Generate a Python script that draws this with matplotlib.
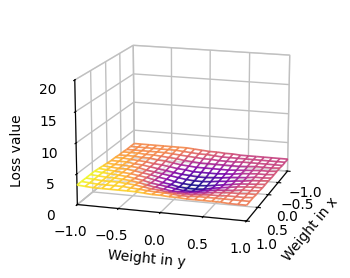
import numpy as np
import matplotlib
matplotlib.use('Agg')
import matplotlib.pyplot as plt
from mpl_toolkits.mplot3d.art3d import Line3DCollection

# loss surface, rows are weight in x (-1 at the back, 1 at the front)
weight_x = [-1.0, -0.857, -0.714, -0.571, -0.429, -0.286, -0.143, 0.0, 0.143, 0.286, 0.429, 0.571, 0.714, 0.857, 1.0]
weight_y = [-1.0, -0.9, -0.8, -0.7, -0.6, -0.5, -0.4, -0.3, -0.2, -0.1, 0.0, 0.1, 0.2, 0.3, 0.4, 0.5, 0.6, 0.7, 0.8, 0.9, 1.0]
loss = [
    [2.6, 2.6, 2.6, 2.6, 2.6, 2.6, 2.6, 2.6, 2.5, 2.4, 2.3, 2.3, 2.2, 2.2, 2.1, 2.1, 2.1, 2.1, 2.1, 2.1, 2.1],
    [2.6, 2.6, 2.6, 2.6, 2.6, 2.6, 2.6, 2.5, 2.4, 2.3, 2.3, 2.2, 2.1, 2.1, 2.1, 2.1, 2.1, 2.1, 2.1, 2.1, 2.1],
    [2.6, 2.6, 2.6, 2.6, 2.6, 2.6, 2.5, 2.4, 2.3, 2.2, 2.1, 2.1, 2.0, 2.0, 2.0, 2.1, 2.1, 2.1, 2.1, 2.1, 2.1],
    [2.7, 2.7, 2.7, 2.6, 2.6, 2.5, 2.4, 2.3, 2.1, 2.0, 1.9, 1.9, 1.9, 1.9, 1.9, 1.9, 2.0, 2.1, 2.1, 2.1, 2.2],
    [2.7, 2.7, 2.7, 2.6, 2.6, 2.4, 2.3, 2.1, 1.9, 1.8, 1.7, 1.7, 1.7, 1.7, 1.7, 1.8, 1.9, 2.0, 2.1, 2.1, 2.2],
    [2.8, 2.8, 2.7, 2.6, 2.5, 2.3, 2.2, 2.0, 1.8, 1.7, 1.5, 1.5, 1.5, 1.5, 1.6, 1.7, 1.9, 2.0, 2.1, 2.1, 2.2],
    [2.8, 2.8, 2.8, 2.6, 2.5, 2.3, 2.1, 1.9, 1.7, 1.5, 1.4, 1.3, 1.3, 1.4, 1.5, 1.7, 1.8, 1.9, 2.1, 2.1, 2.2],
    [2.9, 2.8, 2.8, 2.7, 2.6, 2.3, 2.1, 1.9, 1.7, 1.5, 1.3, 1.2, 1.2, 1.3, 1.5, 1.6, 1.8, 1.9, 2.1, 2.2, 2.3],
    [3.0, 2.9, 2.8, 2.8, 2.6, 2.4, 2.2, 1.9, 1.7, 1.4, 1.2, 1.1, 1.1, 1.2, 1.4, 1.6, 1.8, 2.0, 2.1, 2.2, 2.3],
    [3.1, 3.0, 2.9, 2.8, 2.7, 2.5, 2.3, 2.0, 1.7, 1.5, 1.2, 1.1, 1.1, 1.2, 1.5, 1.7, 1.9, 2.1, 2.2, 2.3, 2.3],
    [3.2, 3.1, 3.0, 2.9, 2.8, 2.6, 2.4, 2.1, 1.9, 1.7, 1.5, 1.3, 1.3, 1.5, 1.7, 1.9, 2.0, 2.1, 2.3, 2.3, 2.4],
    [3.2, 3.1, 3.0, 3.0, 2.9, 2.8, 2.6, 2.3, 2.1, 1.9, 1.7, 1.7, 1.7, 1.8, 1.9, 2.1, 2.2, 2.3, 2.3, 2.4, 2.4],
    [3.2, 3.1, 3.0, 3.0, 3.0, 2.9, 2.8, 2.6, 2.4, 2.3, 2.1, 2.1, 2.1, 2.1, 2.2, 2.3, 2.3, 2.4, 2.4, 2.4, 2.5],
    [3.2, 3.1, 3.0, 3.0, 3.0, 3.0, 2.9, 2.8, 2.7, 2.6, 2.6, 2.5, 2.4, 2.4, 2.5, 2.5, 2.5, 2.5, 2.5, 2.5, 2.5],
    [3.2, 3.1, 3.0, 3.0, 3.0, 3.0, 3.0, 3.0, 2.9, 2.8, 2.8, 2.7, 2.7, 2.6, 2.6, 2.6, 2.6, 2.6, 2.5, 2.5, 2.5],
]

X, Y = np.meshgrid(weight_x, weight_y, indexing='ij')
Z = np.array(loss)

fig = plt.figure(figsize=(3.5, 2.78), dpi=100)
ax = fig.add_axes([0.05, 0.055, 0.945, 0.945], projection='3d')
ax.set_box_aspect((4.1, 4.1, 3))

# pale skin under the wire
ax.plot_surface(X, Y, Z, color='white', alpha=0.45, linewidth=0, shade=False)

# wire segments coloured by loss
segs = []
seg_vals = []
for i in range(Z.shape[0]):
    for j in range(Z.shape[1]):
        if j + 1 < Z.shape[1]:
            segs.append([(X[i, j], Y[i, j], Z[i, j]), (X[i, j + 1], Y[i, j + 1], Z[i, j + 1])])
            seg_vals.append((Z[i, j] + Z[i, j + 1]) / 2)
        if i + 1 < Z.shape[0]:
            segs.append([(X[i, j], Y[i, j], Z[i, j]), (X[i + 1, j], Y[i + 1, j], Z[i + 1, j])])
            seg_vals.append((Z[i, j] + Z[i + 1, j]) / 2)
wire = Line3DCollection(segs, cmap='plasma', norm=plt.Normalize(Z.min(), Z.max()), linewidths=1.25, alpha=0.9)
wire.set_array(np.array(seg_vals))
ax.add_collection3d(wire)

ax.set_xlim(-1, 1)
ax.set_ylim(-1, 1)
ax.set_zlim(0, 20)
ax.set_xticks([-1, -0.5, 0, 0.5, 1])
ax.set_yticks([-1, -0.5, 0, 0.5, 1])
ax.set_zticks([0, 5, 10, 15, 20])
ax.set_xlabel('Weight in x')
ax.set_ylabel('Weight in y')
ax.zaxis.set_rotate_label(False)
ax.set_zlabel('Loss value', rotation=90)
ax.view_init(elev=15, azim=17)
for axis in (ax.xaxis, ax.yaxis, ax.zaxis):
    axis.pane.fill = False
    axis.pane.set_edgecolor('#c0c0c0')
    axis._axinfo['grid']['color'] = '#c0c0c0'
    axis._axinfo['grid']['linewidth'] = 1.0

plt.savefig('out.png')
